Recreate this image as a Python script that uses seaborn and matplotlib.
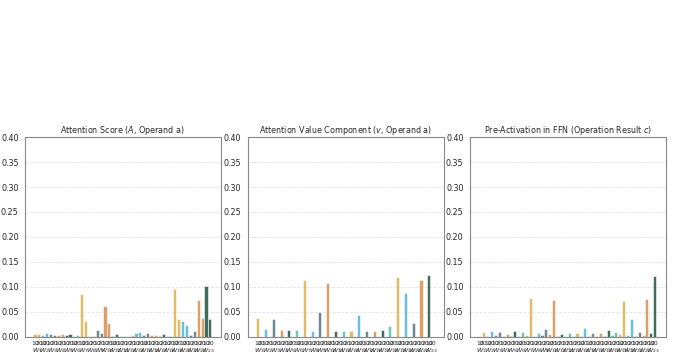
import numpy as np
import pandas as pd
import seaborn as sns
import matplotlib.pyplot as plt

# weight groups W_1 .. W_23, two bars per group
groups = [f"$W_{{{k}}}$" for k in range(1, 24)]
sub_labels = ["10", "20"]

titles = [
    "Attention Score ($A$, Operand a)",
    "Attention Value Component ($v$, Operand a)",
    "Pre-Activation in FFN (Operation Result $c$)",
]

attn_score = [0.005, 0.006, 0.003, 0.008, 0.006, 0.004, 0.004, 0.006, 0.004, 0.005,
              0.001, 0.004, 0.085, 0.031, 0.002, 0.002, 0.014, 0.007, 0.062, 0.028,
              0.002, 0.006, 0.002, 0.002, 0.001, 0.004, 0.008, 0.010, 0.004, 0.007,
              0.003, 0.003, 0.002, 0.006, 0.002, 0.002, 0.095, 0.036, 0.032, 0.023,
              0.004, 0.011, 0.074, 0.038, 0.101, 0.036]

# value component: only the first bar of each pair is non-zero
value_first = [0.037, 0.015, 0.036, 0.013, 0.013, 0.013, 0.114, 0.011, 0.049, 0.107,
               0.011, 0.011, 0.011, 0.044, 0.011, 0.012, 0.013, 0.021, 0.120, 0.087,
               0.027, 0.113, 0.123]
value_comp = []
for v in value_first:
    value_comp += [v, 0.0]

ffn_pre = [0.002, 0.009, 0.002, 0.011, 0.003, 0.010, 0.001, 0.006, 0.002, 0.011,
           0.001, 0.010, 0.004, 0.077, 0.001, 0.007, 0.003, 0.016, 0.006, 0.074,
           0.001, 0.006, 0.002, 0.008, 0.002, 0.008, 0.002, 0.018, 0.002, 0.008,
           0.002, 0.008, 0.002, 0.014, 0.003, 0.010, 0.006, 0.072, 0.004, 0.035,
           0.002, 0.010, 0.004, 0.076, 0.008, 0.122]

series = [attn_score, value_comp, ffn_pre]

base_colors = ["#F3C14B", "#4EC4F2", "#5F8596", "#F0994B", "#2F6C57", "#47DFB7"]


def main():
    sns.set_style("white")
    fig = plt.figure(figsize=(6.73, 3.59), dpi=100)

    n = len(groups) * 2
    slots = list(range(n))
    colors = [base_colors[(i // 2) % 6] for i in slots]
    top_labels = [sub_labels[i % 2] for i in slots]
    yt = np.arange(0, 0.401, 0.05)

    lefts = [0.037, 0.368, 0.698]
    for i in range(3):
        ax = fig.add_axes([lefts[i], 0.062, 0.291, 0.556])
        df = pd.DataFrame({"slot": slots, "value": series[i]})
        sns.barplot(data=df, x="slot", y="value", hue="slot", palette=colors,
                    legend=False, width=0.8, ax=ax,
                    edgecolor="white", linewidth=0.4, alpha=0.95)
        ax.set_ylim(0, 0.40)
        ax.set_xlim(-2.6, n + 1.8)
        ax.set_yticks(yt)
        ax.set_yticklabels([f"{t:.2f}" for t in yt], fontsize=5.8)
        # per-bar sub labels (major) and group labels (minor, second line)
        ax.set_xticks(slots)
        ax.set_xticklabels(top_labels, fontsize=4.3)
        ax.set_xticks([2 * k + 0.5 for k in range(len(groups))], minor=True)
        ax.set_xticklabels(groups, minor=True, fontsize=4.6)
        ax.tick_params(axis="x", which="major", length=2, width=0.5, pad=1)
        ax.tick_params(axis="x", which="minor", length=0, pad=7)
        ax.tick_params(axis="y", length=3, width=0.6, pad=1.5)
        ax.set_xlabel("")
        ax.set_ylabel("")
        ax.set_axisbelow(True)
        ax.yaxis.grid(True, linestyle="--", color="#e3e3e3", linewidth=0.6)
        for sp in ax.spines.values():
            sp.set_color("#888888")
            sp.set_linewidth(0.8)
        ax.set_title(titles[i], fontsize=5.8, pad=3)

    fig.savefig("out.png", dpi=100)


if __name__ == "__main__":
    main()
